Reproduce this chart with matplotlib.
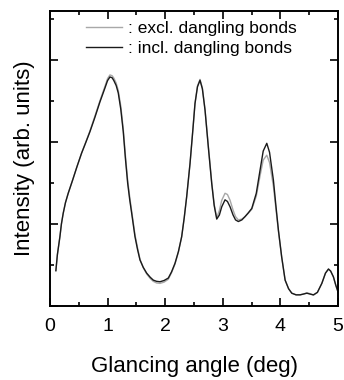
import matplotlib
matplotlib.use('Agg')
import matplotlib.pyplot as plt
from matplotlib.ticker import MultipleLocator, NullFormatter

# glancing angle (deg)
angle = [0.104, 0.13, 0.174, 0.2, 0.231, 0.27, 0.318, 0.394, 0.47, 0.55,
         0.62, 0.694, 0.78, 0.868, 0.955, 1.0, 1.042, 1.08, 1.11, 1.15,
         1.186, 1.23, 1.273, 1.31, 1.349, 1.384, 1.418, 1.476, 1.52, 1.563,
         1.62, 1.679, 1.74, 1.793, 1.85, 1.91, 1.98, 2.054, 2.11, 2.17,
         2.23, 2.286, 2.33, 2.373, 2.431, 2.48, 2.517, 2.56, 2.604, 2.645,
         2.691, 2.75, 2.807, 2.85, 2.894, 2.94, 2.981, 3.038, 3.08, 3.125,
         3.177, 3.22, 3.269, 3.33, 3.385, 3.44, 3.502, 3.58, 3.646, 3.70,
         3.762, 3.81, 3.877, 3.92, 3.964, 4.02, 4.08, 4.14, 4.196, 4.27,
         4.34, 4.40, 4.457, 4.51, 4.571, 4.64, 4.717, 4.78, 4.832, 4.87,
         4.918, 4.96, 5.005]

# intensity including dangling bonds (black)
incl = [0.86, 1.25, 1.69, 2.00, 2.26, 2.52, 2.75, 3.07, 3.40, 3.73,
        3.98, 4.25, 4.60, 4.98, 5.32, 5.50, 5.59, 5.57, 5.50, 5.38,
        5.20, 4.80, 4.25, 3.60, 3.00, 2.60, 2.27, 1.69, 1.38, 1.12,
        0.94, 0.80, 0.70, 0.63, 0.60, 0.59, 0.62, 0.68, 0.83, 1.04,
        1.33, 1.69, 2.15, 2.67, 3.48, 4.30, 4.94, 5.35, 5.51, 5.30,
        4.78, 3.85, 2.99, 2.45, 2.12, 2.22, 2.42, 2.59, 2.55, 2.42,
        2.22, 2.10, 2.06, 2.10, 2.18, 2.27, 2.38, 2.75, 3.32, 3.78,
        3.97, 3.75, 3.07, 2.45, 1.85, 1.20, 0.63, 0.42, 0.31, 0.27,
        0.27, 0.29, 0.31, 0.29, 0.27, 0.33, 0.55, 0.80, 0.90, 0.85,
        0.71, 0.50, 0.31]

# intensity excluding dangling bonds (grey)
excl = [0.86, 1.25, 1.69, 2.00, 2.26, 2.52, 2.75, 3.07, 3.40, 3.73,
        3.99, 4.27, 4.63, 5.01, 5.36, 5.55, 5.64, 5.62, 5.56, 5.44,
        5.26, 4.88, 4.32, 3.68, 3.07, 2.67, 2.32, 1.74, 1.42, 1.14,
        0.93, 0.78, 0.67, 0.60, 0.56, 0.55, 0.58, 0.65, 0.81, 1.02,
        1.32, 1.69, 2.15, 2.67, 3.48, 4.30, 4.95, 5.37, 5.53, 5.32,
        4.80, 3.88, 3.02, 2.48, 2.15, 2.33, 2.58, 2.75, 2.72, 2.58,
        2.34, 2.18, 2.10, 2.12, 2.18, 2.26, 2.36, 2.68, 3.18, 3.56,
        3.68, 3.50, 2.92, 2.38, 1.82, 1.20, 0.63, 0.42, 0.31, 0.27,
        0.27, 0.29, 0.32, 0.30, 0.26, 0.33, 0.55, 0.80, 0.90, 0.85,
        0.70, 0.50, 0.31]

plt.rcParams['font.family'] = ['Liberation Sans', 'DejaVu Sans']

fig = plt.figure(figsize=(3.44, 3.80), dpi=100, facecolor='w')
ax = fig.add_axes([0.145, 0.195, 0.838, 0.776])

ax.plot(angle, excl, color='#a8a8a8', lw=1.0, label=': excl. dangling bonds')
ax.plot(angle, incl, color='#1a1a1a', lw=1.0, label=': incl. dangling bonds')

ax.set_xlim(0, 5)
ax.set_ylim(0, 7.2)
ax.xaxis.set_major_locator(MultipleLocator(1))
ax.xaxis.set_minor_locator(MultipleLocator(0.5))
ax.yaxis.set_major_locator(MultipleLocator(2))
ax.yaxis.set_minor_locator(MultipleLocator(1))
ax.yaxis.set_major_formatter(NullFormatter())
ax.tick_params(which='both', direction='in', top=True, right=True, width=1.2)
ax.tick_params(which='major', length=6, labelsize=14, pad=9)
ax.tick_params(which='minor', length=3)
for s in ax.spines.values():
    s.set_linewidth(1.4)

ax.set_xlabel('Glancing angle (deg)', fontsize=16, labelpad=15)
ax.set_ylabel('Intensity (arb. units)', fontsize=16)
ax.yaxis.set_label_coords(-0.05, 0.5)

ax.legend(loc='upper left', bbox_to_anchor=(0.125, 0.965), frameon=False,
          fontsize=12.5, handlelength=2.1, handletextpad=0.3, labelspacing=0.25,
          borderpad=0, borderaxespad=0)

fig.savefig('out.png', dpi=100)
